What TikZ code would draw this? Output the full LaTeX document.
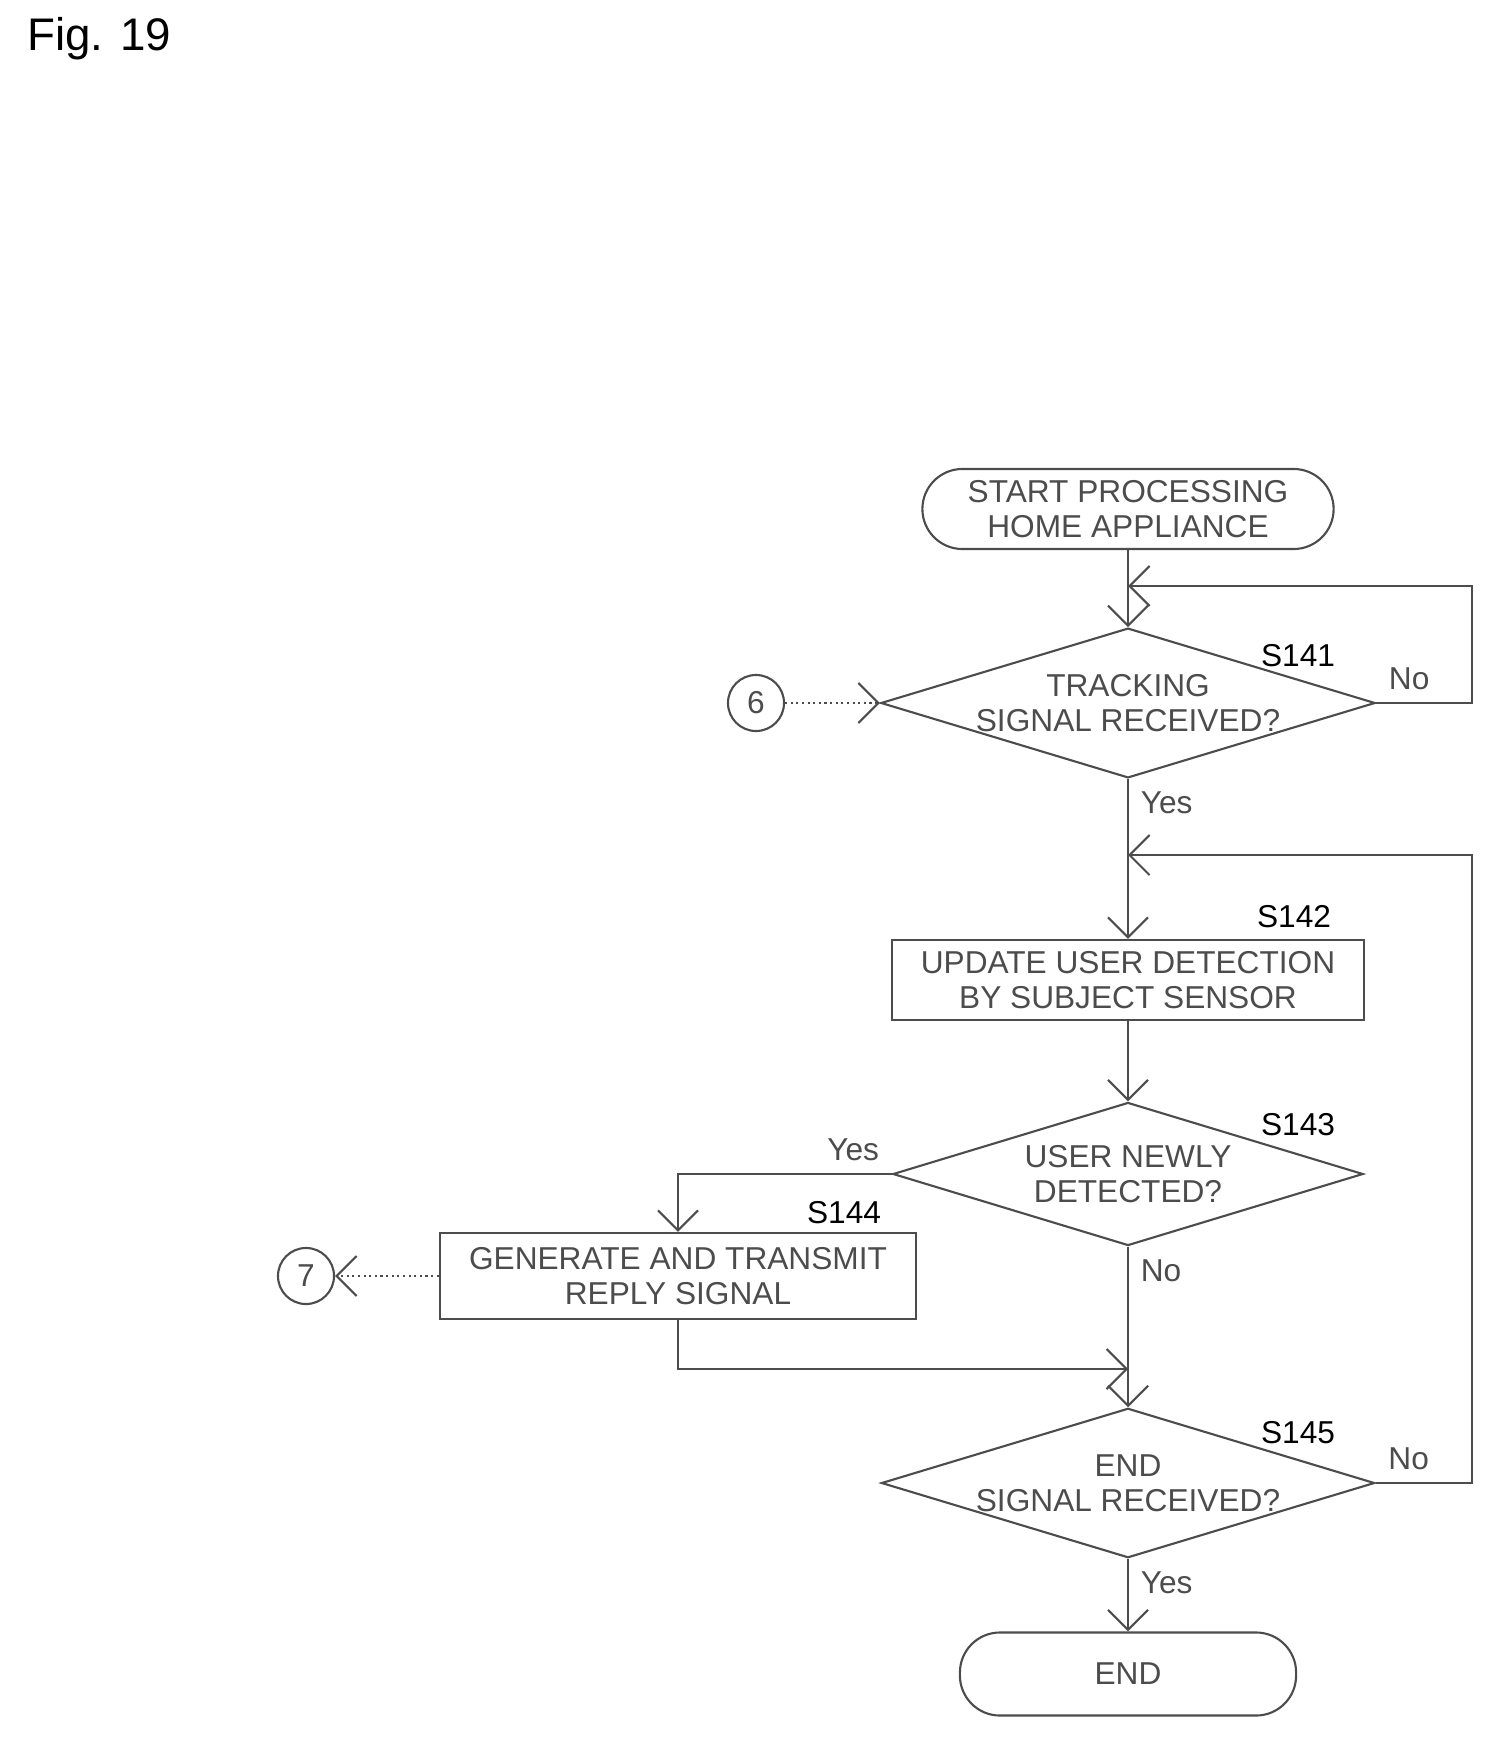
\documentclass[tikz,border=0pt]{standalone}
\usepackage{fontspec}
\setmainfont{Liberation Sans}
\usetikzlibrary{shapes.geometric,arrows.meta}

\begin{document}
\begin{tikzpicture}[x=0.01cm, y=-0.01cm, >={Straight Barb[length=2mm]},
  every node/.style={font=\fontsize{9}{10}\selectfont},
  line/.style={semithick, gray!60!black},
  term/.style={line, draw, rounded corners=0.4cm, align=center, inner sep=0pt},
  proc/.style={line, draw, rectangle, align=center, inner sep=0pt},
  dec/.style={line, draw, diamond, aspect=3.3, align=center, inner sep=0pt},
  conn/.style={line, draw, circle, minimum size=0.56cm, inner sep=0pt}]
  \useasboundingbox (0,0) rectangle (1500,1749);

  \node[anchor=west] at (15,39) {\fontsize{13}{14}\selectfont Fig. 19};

  \node[term, minimum width=4.11cm, minimum height=0.8cm] (start) at (1128,509)
       {START PROCESSING\\HOME APPLIANCE};
  \node[dec, minimum width=4.7cm, minimum height=1.42cm] (s141) at (1128,703)
       {TRACKING\\SIGNAL RECEIVED?};
  \node[conn] (c6) at (756,703) {6};
  \node[proc, minimum width=4.72cm, minimum height=0.8cm] (s142) at (1128,980)
       {UPDATE USER DETECTION\\BY SUBJECT SENSOR};
  \node[dec, minimum width=4.7cm, minimum height=1.43cm] (s143) at (1128,1174)
       {USER NEWLY\\DETECTED?};
  \node[proc, minimum width=4.76cm, minimum height=0.86cm] (s144) at (678,1276)
       {GENERATE AND TRANSMIT\\REPLY SIGNAL};
  \node[conn] (c7) at (306,1276) {7};
  \node[dec, minimum width=4.7cm, minimum height=1.42cm] (s145) at (1128,1483)
       {END\\SIGNAL RECEIVED?};
  \node[term, minimum width=3.36cm, minimum height=0.83cm] (end) at (1128,1674) {END};

  % step labels
  \node at (1298,656) {S141};
  \node at (1294,917) {S142};
  \node at (1298,1125) {S143};
  \node at (844,1213) {S144};
  \node at (1298,1433) {S145};

  \coordinate (m1) at (1128,586);
  \coordinate (m2) at (1128,855);
  \coordinate (m3) at (1128,1369);

  \draw[line, ->] (start) -- (s141);
  \draw[line, ->] (s141.east) node[above right] {No} -| (1472,586) -- (m1);
  \draw[line, densely dotted, ->] (c6) -- (s141.west);
  \draw[line, ->] (s141.south) node[below right] {Yes} -- (s142);
  \draw[line, ->] (s142) -- (s143);
  \draw[line, ->] (s143.west) node[above left] {Yes} -| (s144.north);
  \draw[line, densely dotted, ->] (s144.west) -- (c7);
  \draw[line, ->] (s143.south) node[below right] {No} -- (s145.north);
  \draw[line, ->] (s144.south) |- (m3);
  \draw[line, ->] (s145.east) node[above right] {No} -| (1472,855) -- (m2);
  \draw[line, ->] (s145.south) node[below right] {Yes} -- (end);
\end{tikzpicture}
\end{document}
